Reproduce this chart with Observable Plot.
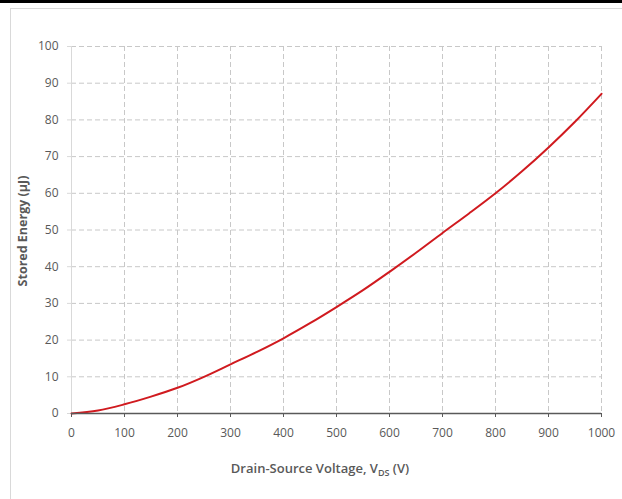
<!DOCTYPE html>
<html>
<head>
<meta charset="utf-8">
<script src="https://cdn.jsdelivr.net/npm/d3@7"></script>
<script src="https://cdn.jsdelivr.net/npm/@observablehq/plot@0.6"></script>
<style>
  html, body { margin: 0; padding: 0; background: #fff; }
  #wrap { position: relative; width: 622px; height: 499px; overflow: hidden; }
  #topbar { position: absolute; left: 0; top: 0; width: 622px; height: 3px; background: #000; }
  #frame { position: absolute; left: 10px; top: 8px; width: 640px; height: 520px;
           border-left: 1px solid #d9d9d9; border-top: 1px solid #d9d9d9; }
  #chart { position: absolute; left: 0; top: 0; }
</style>
</head>
<body>
<div id="wrap">
  <div id="topbar"></div>
  <div id="frame"></div>
  <div id="chart"></div>
</div>
<script>
// Output capacitance stored energy vs. drain-source voltage
const voltage = [0, 50, 100, 150, 200, 250, 300, 350, 400, 450, 500,
                 550, 600, 650, 700, 750, 800, 850, 900, 950, 1000];
const energy  = [0, 0.8, 2.5, 4.6, 7.0, 10.0, 13.4, 16.8, 20.5, 24.6, 29.0,
                 33.6, 38.6, 43.8, 49.2, 54.5, 60.0, 66.0, 72.5, 79.5, 87.1];

const xTicks = [0, 100, 200, 300, 400, 500, 600, 700, 800, 900, 1000];
const yTicks = [0, 10, 20, 30, 40, 50, 60, 70, 80, 90, 100];

const yTitle = "Stored Energy (µJ)";
const xTitleMain = "Drain-Source Voltage, V";
const xTitleSub = "DS";
const xTitleEnd = " (V)";

const points = voltage.map((v, i) => ({v, e: energy[i]}));

const gridColor = "#c8c8c8";
const textColor = "#595959";

const svg = Plot.plot({
  width: 622,
  height: 499,
  marginLeft: 71,
  marginRight: 21,
  marginTop: 46,
  marginBottom: 86,
  style: {
    fontFamily: "'Open Sans', sans-serif",
    fontSize: "12px",
    color: textColor,
    background: "transparent",
    overflow: "visible"
  },
  x: {domain: [0, 1000]},
  y: {domain: [0, 100]},
  marks: [
    Plot.gridY(yTicks.slice(1), {stroke: gridColor, strokeOpacity: 1, strokeDasharray: "5,3"}),
    Plot.gridX(xTicks.slice(1), {stroke: gridColor, strokeOpacity: 1, strokeDasharray: "5,3"}),
    Plot.ruleX([0], {stroke: "#d9d9d9"}),
    Plot.axisY(yTicks, {
      tickSize: 4, tickPadding: 9, stroke: "#d9d9d9", strokeOpacity: 1,
      fill: textColor, label: null, tickFormat: d3.format("d")
    }),
    Plot.line(points, {x: "v", y: "e", stroke: "#d01a1f", strokeWidth: 2, curve: "catmull-rom"}),
    Plot.ruleY([0], {stroke: "#595959", strokeWidth: 1.5}),
    Plot.axisX(xTicks, {
      tickSize: 4, tickPadding: 11, stroke: "#595959", strokeOpacity: 1,
      fill: textColor, label: null, tickFormat: d3.format("d")
    })
  ]
});

document.getElementById("chart").appendChild(svg);

// Axis titles
const s = d3.select(svg);
s.append("text")
  .attr("transform", "translate(27,231) rotate(-90)")
  .attr("text-anchor", "middle")
  .attr("fill", textColor)
  .attr("font-weight", "bold")
  .attr("font-size", "12.5px")
  .text(yTitle);

const xt = s.append("text")
  .attr("x", 320)
  .attr("y", 473)
  .attr("text-anchor", "middle")
  .attr("fill", textColor)
  .attr("font-weight", "600")
  .attr("font-size", "13px");
xt.append("tspan").text(xTitleMain);
xt.append("tspan").attr("font-size", "9px").attr("dy", "3").text(xTitleSub);
xt.append("tspan").attr("dy", "-3").text(xTitleEnd);
</script>
</body>
</html>
